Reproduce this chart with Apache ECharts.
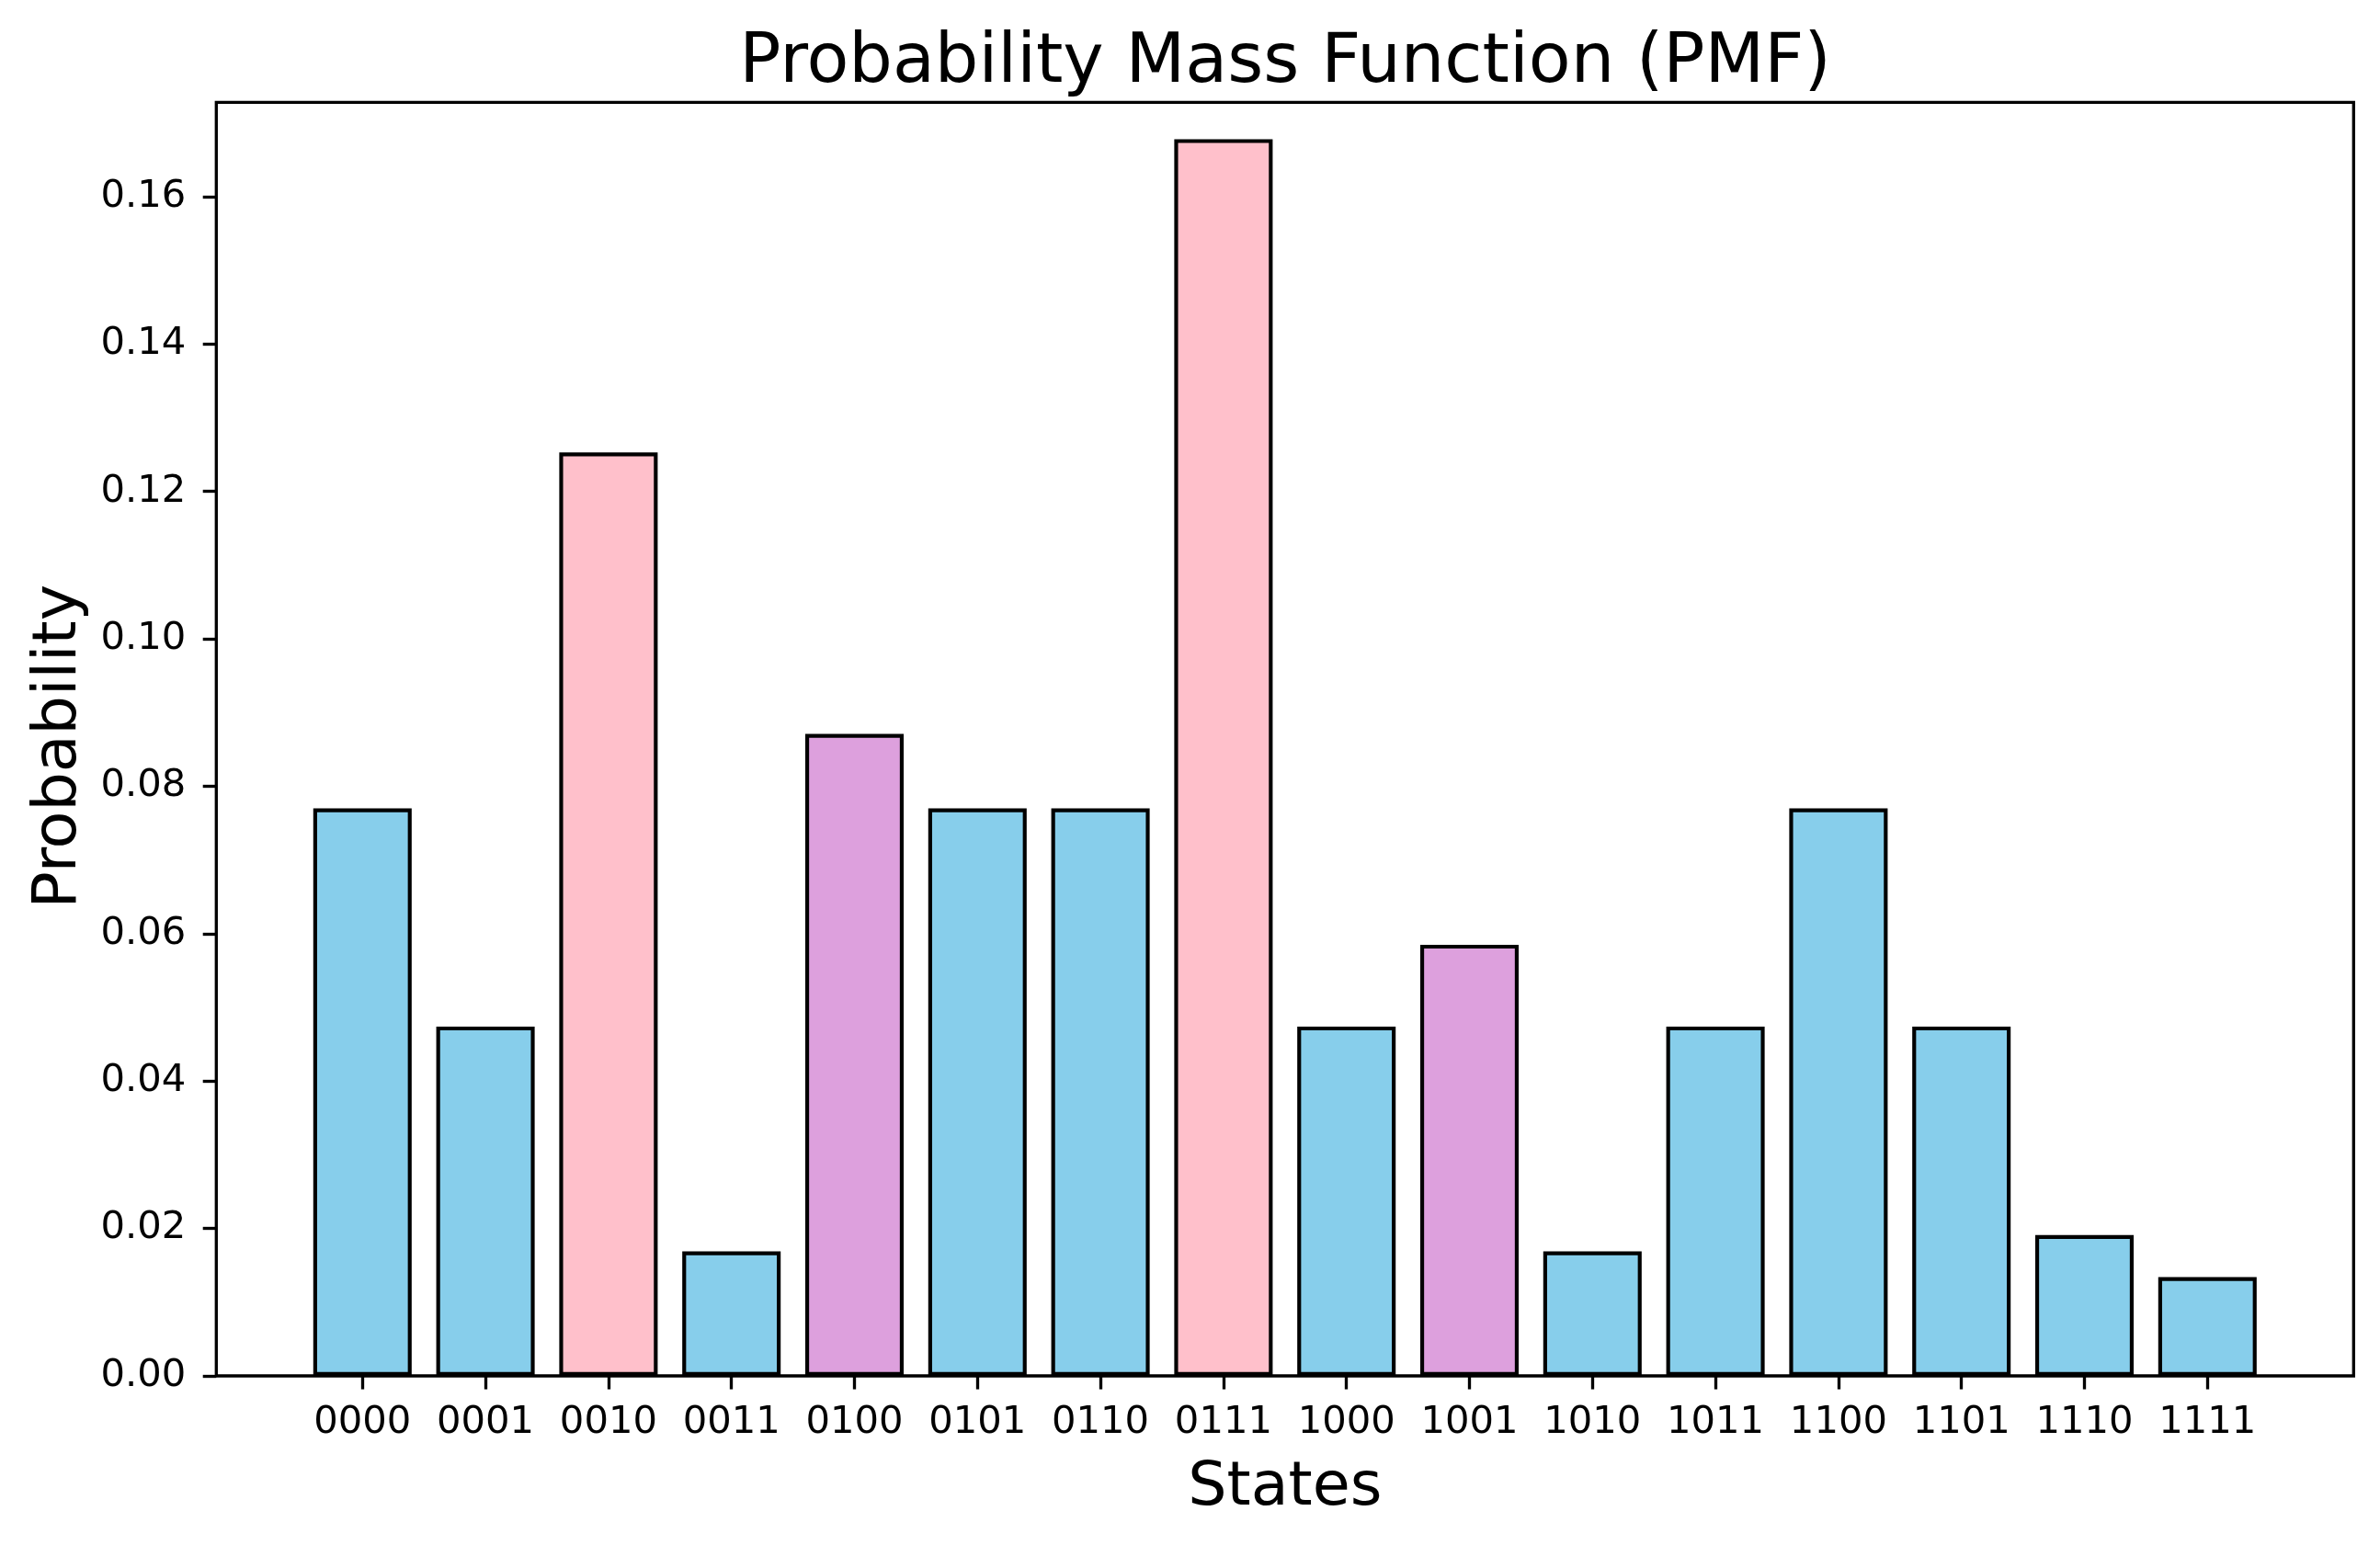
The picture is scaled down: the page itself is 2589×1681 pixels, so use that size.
<!DOCTYPE html>
<html>
<head>
<meta charset="utf-8">
<script src="https://cdn.jsdelivr.net/npm/echarts@6/dist/echarts.min.js"></script>
<style>
html, body { margin: 0; padding: 0; background: #fff; }
#chart { width: 2589px; height: 1681px; }
</style>
</head>
<body>
<div id="chart"></div>
<script>
const states = ['0000','0001','0010','0011','0100','0101','0110','0111','1000','1001','1010','1011','1100','1101','1110','1111'];
const probabilities = [0.0770, 0.0474, 0.1253, 0.0169, 0.0871, 0.0770, 0.0770, 0.1678, 0.0474, 0.0585, 0.0169, 0.0474, 0.0770, 0.0474, 0.0191, 0.0134];
const barColors = ['#87CEEB','#87CEEB','#FFC0CB','#87CEEB','#DDA0DD','#87CEEB','#87CEEB','#FFC0CB','#87CEEB','#DDA0DD','#87CEEB','#87CEEB','#87CEEB','#87CEEB','#87CEEB','#87CEEB'];
const yTicks = [0, 0.02, 0.04, 0.06, 0.08, 0.10, 0.12, 0.14, 0.16];
const yMax = 0.1728;

const FONT = 'DejaVu Sans';
const chart = echarts.init(document.getElementById('chart'), null, { renderer: 'canvas' });

const option = {
  backgroundColor: '#ffffff',
  animation: false,
  title: {
    text: 'Probability Mass Function (PMF)',
    left: 1393,
    textAlign: 'center',
    top: 27,
    textStyle: { fontFamily: FONT, fontSize: 75, fontWeight: 'normal', color: '#000' }
  },
  grid: [
    { left: 235.3, right: 28.7, top: 111.3, bottom: 184, show: true, borderColor: '#000', borderWidth: 3.33, backgroundColor: 'transparent', containLabel: false },
    { left: 327.4, right: 120.8, top: 111.3, bottom: 184, show: false, containLabel: false }
  ],
  xAxis: [
    { type: 'value', gridIndex: 0, min: 0, max: 1, show: false },
    {
      type: 'category', gridIndex: 1, data: states,
      name: 'States', nameLocation: 'middle', nameGap: 89,
      nameTextStyle: { fontFamily: FONT, fontSize: 66.7, color: '#000' },
      axisLine: { show: false },
      axisTick: { show: true, alignWithLabel: true, length: 14.6, lineStyle: { color: '#000', width: 3.33 } },
      axisLabel: { interval: 0, margin: 30, fontFamily: FONT, fontSize: 41.7, color: '#000' },
      splitLine: { show: false }
    }
  ],
  yAxis: [
    {
      type: 'value', gridIndex: 0, min: 0, max: yMax,
      name: 'Probability', nameLocation: 'middle', nameGap: 134,
      nameTextStyle: { fontFamily: FONT, fontSize: 66.7, color: '#000', padding: [0, 16, 0, 0] },
      axisLine: { show: false },
      axisTick: { show: true, length: 14.6, lineStyle: { color: '#000', width: 3.33 }, customValues: yTicks },
      axisLabel: { margin: 33, fontFamily: FONT, fontSize: 41.7, color: '#000', customValues: yTicks,
        formatter: v => v.toFixed(2) },
      splitLine: { show: false }
    },
    { type: 'value', gridIndex: 1, min: 0, max: yMax, show: false }
  ],
  series: [
    {
      type: 'bar',
      xAxisIndex: 1, yAxisIndex: 1,
      barWidth: '80%',
      data: probabilities.map((v, i) => ({
        value: v,
        itemStyle: { color: barColors[i], borderColor: '#000', borderWidth: 4.17 }
      }))
    }
  ]
};
chart.setOption(option);
</script>
</body>
</html>
